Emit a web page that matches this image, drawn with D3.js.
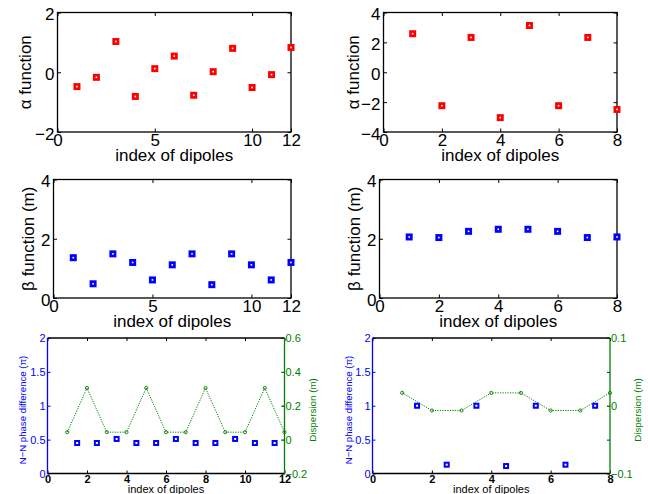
<!DOCTYPE html>
<html><head><meta charset="utf-8">
<script src="https://cdn.jsdelivr.net/npm/d3@7"></script>
<style>body{margin:0;background:#fff} text{font-family:"Liberation Sans",Arial,Helvetica,sans-serif}</style>
</head><body><svg id="c" width="648" height="494"></svg>
<script>
// ---- data ----
const dipoles12 = [1,2,3,4,5,6,7,8,9,10,11,12];
const alpha12 = [-0.48,-0.17,1.03,-0.81,0.12,0.54,-0.77,0.02,0.80,-0.51,-0.08,0.83];
const beta12 = [1.36,0.48,1.49,1.20,0.61,1.12,1.49,0.45,1.49,1.12,0.61,1.20];
const dipoles8 = [1,2,3,4,5,6,7,8];
const alpha8 = [2.58,-2.24,2.33,-3.04,3.13,-2.24,2.33,-2.49];
const beta8 = [2.06,2.04,2.25,2.32,2.32,2.25,2.04,2.06];
const phaseX12 = [1.5,2.5,3.5,4.5,5.5,6.5,7.5,8.5,9.5,10.5,11.5];
const phase12 = [0.45,0.45,0.51,0.45,0.45,0.51,0.45,0.45,0.51,0.45,0.45];
const disp12 = [0.044,0.305,0.044,0.044,0.305,0.044,0.044,0.305,0.044,0.044,0.305,0.044];
const phaseX8 = [1.5,2.5,3.5,4.5,5.5,6.5,7.5];
const phase8 = [1.0,0.13,1.0,0.11,1.0,0.13,1.0];
const disp8 = [0.019,-0.007,-0.007,0.019,0.019,-0.007,-0.007,0.019];

const xTicks12 = [0,5,10,12];
const xTicks8 = [0,2,4,6,8];
const xTicks12b = [0,2,4,6,8,10,12];
const yTicksAlpha12 = [-2,0,2];
const yTicksAlpha8 = [-4,-2,0,2,4];
const yTicksBeta = [0,2,4];
const yTicksPhase = [0,0.5,1,1.5,2];
const yTicksDisp12 = [-0.2,0,0.2,0.4,0.6];
const yTicksDisp8 = [-0.1,0,0.1];

const RED = "#ff0000", BLUE = "#0000ff", GREEN = "#008000";
const fmt = d => (d < 0 ? "\u2212" + Math.abs(d) : String(d));
const svg = d3.select("#c");

function styleAxis(g, size, color, weight) {
  g.select(".domain").remove();
  g.selectAll("line").attr("stroke", color).attr("stroke-width", 1);
  g.selectAll("text").attr("font-size", size).attr("fill", color)
    .attr("font-weight", weight || "normal")
    .attr("font-family", '"Liberation Sans", Arial, sans-serif');
}

function squares(g, xs, ys, x, y, color, side, sw) {
  g.selectAll(null).data(xs).enter().append("rect")
    .attr("x", (d) => x(d) - side / 2)
    .attr("y", (d, i) => y(ys[i]) - side / 2)
    .attr("width", side).attr("height", side)
    .attr("fill", "#fff").attr("stroke", color).attr("stroke-width", sw);
}

function topPanel(p) {
  const x = d3.scaleLinear().domain(p.xd).range([p.l, p.r]);
  const y = d3.scaleLinear().domain(p.yd).range([p.b, p.t]);
  const g = svg.append("g");
  const TL = 3.5;
  const ab = g.append("g").attr("transform", `translate(0,${p.b})`)
    .call(d3.axisBottom(x).tickValues(p.xt).tickSize(-TL).tickPadding(2).tickFormat(fmt));
  styleAxis(ab, 17, "#000");
  const at = g.append("g").attr("transform", `translate(0,${p.t})`)
    .call(d3.axisTop(x).tickValues(p.xt).tickSize(-TL).tickFormat(""));
  styleAxis(at, 17, "#000");
  const al = g.append("g").attr("transform", `translate(${p.l},0)`)
    .call(d3.axisLeft(y).tickValues(p.yt).tickSize(-TL).tickPadding(3).tickFormat(fmt));
  styleAxis(al, 17, "#000");
  al.selectAll("text").attr("dy", "0.42em");
  const ar = g.append("g").attr("transform", `translate(${p.r},0)`)
    .call(d3.axisRight(y).tickValues(p.yt).tickSize(-TL).tickFormat(""));
  styleAxis(ar, 17, "#000");
  g.append("rect").attr("x", p.l).attr("y", p.t).attr("width", p.r - p.l).attr("height", p.b - p.t)
    .attr("fill", "none").attr("stroke", "#000").attr("stroke-width", 1.3);
  squares(g, p.xs, p.ys, x, y, p.color, 4.3, 2.7);
  g.append("text").attr("x", (p.l + p.r) / 2).attr("y", p.b + 29).attr("text-anchor", "middle")
    .attr("font-size", 17).text("index of dipoles");
  g.append("text").attr("transform", `translate(${p.yl},${(p.t + p.b) / 2}) rotate(-90)`)
    .attr("text-anchor", "middle").attr("font-size", 17).text(p.ylabel);
}

function bottomPanel(p) {
  const x = d3.scaleLinear().domain(p.xd).range([p.l, p.r]);
  const y = d3.scaleLinear().domain([0, 2]).range([p.b, p.t]);
  const y2 = d3.scaleLinear().domain(p.y2d).range([p.b, p.t]);
  const g = svg.append("g");
  const TL = 3;
  const ab = g.append("g").attr("transform", `translate(0,${p.b})`)
    .call(d3.axisBottom(x).tickValues(p.xt).tickSize(-TL).tickPadding(2).tickFormat(fmt));
  styleAxis(ab, 11, "#000", "bold");
  const at = g.append("g").attr("transform", `translate(0,${p.t})`)
    .call(d3.axisTop(x).tickValues(p.xt).tickSize(-TL).tickFormat(""));
  styleAxis(at, 11, "#000");
  const al = g.append("g").attr("transform", `translate(${p.l},0)`)
    .call(d3.axisLeft(y).tickValues(yTicksPhase).tickSize(-TL).tickPadding(2).tickFormat(fmt));
  styleAxis(al, 11, BLUE);
  al.selectAll("text").attr("dy", "0.36em");
  const arb = g.append("g").attr("transform", `translate(${p.r},0)`)
    .call(d3.axisRight(y).tickValues(yTicksPhase).tickSize(-TL).tickFormat(""));
  styleAxis(arb, 11, BLUE);
  const ar = g.append("g").attr("transform", `translate(${p.r},0)`)
    .call(d3.axisRight(y2).tickValues(p.y2t).tickSize(-TL).tickPadding(1).tickFormat(fmt));
  styleAxis(ar, 11, GREEN);
  ar.selectAll("text").attr("x", 1).attr("dy", "0.36em");
  // box
  g.append("line").attr("x1", p.l).attr("x2", p.r).attr("y1", p.t).attr("y2", p.t).attr("stroke", "#000").attr("stroke-width", 1.3);
  g.append("line").attr("x1", p.l).attr("x2", p.r).attr("y1", p.b).attr("y2", p.b).attr("stroke", "#000").attr("stroke-width", 1.3);
  g.append("line").attr("x1", p.l).attr("x2", p.l).attr("y1", p.t).attr("y2", p.b).attr("stroke", BLUE).attr("stroke-width", 1.3);
  g.append("line").attr("x1", p.r).attr("x2", p.r).attr("y1", p.t).attr("y2", p.b).attr("stroke", GREEN).attr("stroke-width", 1.3);
  // dispersion
  const line = d3.line().x((d) => x(d)).y((d, i) => y2(p.disp[i]));
  g.append("path").attr("d", line(p.dx)).attr("fill", "none").attr("stroke", GREEN)
    .attr("stroke-width", 1).attr("stroke-dasharray", "1.2,1.3");
  g.selectAll(null).data(p.dx).enter().append("circle")
    .attr("cx", (d) => x(d)).attr("cy", (d, i) => y2(p.disp[i])).attr("r", 1.6)
    .attr("fill", "none").attr("stroke", GREEN).attr("stroke-width", 0.9);
  // phase
  squares(g, p.px, p.phase, x, y, BLUE, 4, 2);
  g.append("text").attr("x", (p.l + p.r) / 2).attr("y", 493).attr("text-anchor", "middle")
    .attr("font-size", 11).text("index of dipoles");
  g.append("text").attr("transform", `translate(${p.yl},410) rotate(-90)`)
    .attr("text-anchor", "middle").attr("font-size", 9.6).attr("fill", BLUE).text("N\u2212N phase difference (\u03c0)");
  g.append("text").attr("transform", `translate(${p.yr},410) rotate(-90)`)
    .attr("text-anchor", "middle").attr("font-size", 9.8).attr("fill", GREEN).text("Dispersion (m)");
}

topPanel({l: 57.5, r: 291, t: 12.5, b: 132, xd: [0, 12], yd: [-2, 2], xt: xTicks12, yt: yTicksAlpha12,
  xs: dipoles12, ys: alpha12, color: RED, ylabel: "\u03b1 function", yl: 31});
topPanel({l: 383.5, r: 617, t: 12.5, b: 132, xd: [0, 8], yd: [-4, 4], xt: xTicks8, yt: yTicksAlpha8,
  xs: dipoles8, ys: alpha8, color: RED, ylabel: "\u03b1 function", yl: 358.5});
topPanel({l: 53.5, r: 291, t: 179.5, b: 298, xd: [0, 12], yd: [0, 4], xt: xTicks12, yt: yTicksBeta,
  xs: dipoles12, ys: beta12, color: BLUE, ylabel: "\u03b2 function (m)", yl: 34});
topPanel({l: 379.5, r: 617, t: 179.5, b: 298, xd: [0, 8], yd: [0, 4], xt: xTicks8, yt: yTicksBeta,
  xs: dipoles8, ys: beta8, color: BLUE, ylabel: "\u03b2 function (m)", yl: 360});
bottomPanel({l: 47.5, r: 284.5, t: 338, b: 473.5, xd: [0, 12], xt: xTicks12b, y2d: [-0.2, 0.6], y2t: yTicksDisp12,
  dx: dipoles12, disp: disp12, px: phaseX12, phase: phase12, yl: 26, yr: 316});
bottomPanel({l: 372.5, r: 610, t: 338, b: 473.5, xd: [0, 8], xt: xTicks8, y2d: [-0.1, 0.1], y2t: yTicksDisp8,
  dx: dipoles8, disp: disp8, px: phaseX8, phase: phase8, yl: 352, yr: 641});
</script></body></html>
